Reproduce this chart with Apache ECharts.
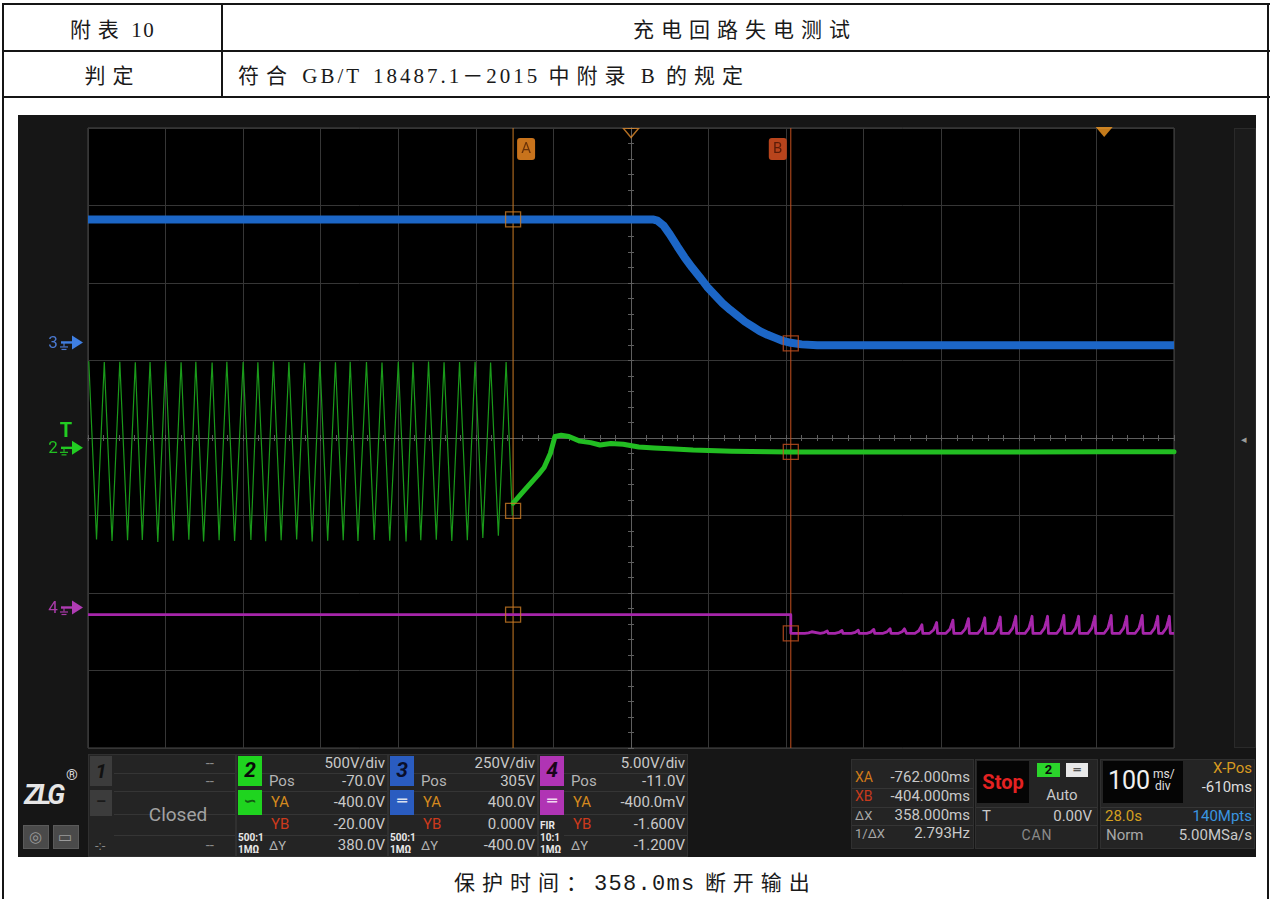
<!DOCTYPE html>
<html>
<head>
<meta charset="utf-8">
<script src="https://cdn.jsdelivr.net/npm/echarts@6/dist/echarts.min.js"></script>
<style>
html,body{margin:0;padding:0;background:#fff;}
body{width:1271px;height:899px;position:relative;overflow:hidden;}
.ln{position:absolute;background:#151515;}
.cell{position:absolute;display:flex;align-items:center;font-family:"Liberation Serif","Noto Sans CJK SC",serif;font-size:21px;color:#1a1a1a;white-space:pre;}
.cj{letter-spacing:7px;}
.la{letter-spacing:1.5px;}
.wide .la{letter-spacing:3px;}
.wide{word-spacing:3px;}
.cap{word-spacing:4px;}
.mono{font-family:"Liberation Mono","DejaVu Sans Mono",monospace;font-size:22px;letter-spacing:1.3px;}
#scope{position:absolute;left:18px;top:115px;width:1238px;height:742px;background:#161616;}
#chart{position:absolute;left:18px;top:115px;width:1238px;height:637px;}
.p{position:absolute;white-space:nowrap;line-height:1;font-family:Roboto,"DejaVu Sans",sans-serif;font-size:15px;color:#c9c9c9;}
.bx{position:absolute;box-sizing:border-box;}
</style>
</head>
<body>
<!-- table frame -->
<div class="ln" style="left:2px;top:3px;width:1268px;height:2px"></div>
<div class="ln" style="left:2px;top:50px;width:1268px;height:2px"></div>
<div class="ln" style="left:2px;top:96px;width:1268px;height:2px"></div>
<div class="ln" style="left:2px;top:3px;width:2px;height:900px"></div>
<div class="ln" style="left:1267px;top:3px;width:2px;height:900px"></div>
<div class="ln" style="left:221px;top:3px;width:2px;height:95px"></div>

<div class="cell" style="left:4px;top:5px;width:217px;height:45px;justify-content:center"><span><span class="cj">附表</span> <span class="la">10</span></span></div>
<div class="cell" style="left:223px;top:5px;width:1044px;height:45px;justify-content:center"><span><span class="cj">充电回路失电测试</span></span></div>
<div class="cell" style="left:4px;top:52px;width:217px;height:44px;justify-content:center"><span><span class="cj">判定</span></span></div>
<div class="cell" style="left:238px;top:52px;width:1000px;height:44px"><span class="wide"><span class="cj">符合</span> <span class="la">GB/T 18487.1－2015</span> <span class="cj">中附录</span> <span class="la">B</span> <span class="cj">的规定</span></span></div>
<div class="cell" style="left:4px;top:862px;width:1263px;height:38px;justify-content:center"><span class="cap"><span class="cj">保护时间：</span><span class="mono">358.0ms</span> <span class="cj">断开输出</span></span></div>

<div id="scope"></div>
<div id="chart"></div>
<div id="panel"></div>

<script>
// ---- acquisition settings (from the status bar) ----
const H_DIV = 14, V_DIV = 8;
const TIME_PER_DIV = 100;      // ms/div
const X_POS = -610;            // ms, screen centre
const TRIG_T = 0;              // ms, trigger point
const chScale = {2: 500, 3: 250, 4: 5};     // V/div
const chPos = {2: -70, 3: 305, 4: -11};     // V offset
const XA = -762, XB = -404;                  // cursor times, ms
const YA = {2: -400, 3: 400, 4: -0.4};       // cursor A levels
const YB = {2: -20, 3: 0, 4: -1.6};          // cursor B levels

// ---- CH2 (green): mains voltage before cut-off ----
const acPeakT = [-1309,-1289,-1269,-1249,-1230,-1210,-1190,-1171,-1150,-1131,-1110,-1091,-1071,-1051,-1031,-1011,-991,-972,-951,-931,-910,-891,-871,-851,-831,-811,-791,-771];
const acPeakV = [565,560,562,558,560,563,559,561,557,562,560,558,563,560,556,561,559,562,560,557,561,559,563,558,560,562,557,560];
const acTroughT = [-1299,-1279,-1259,-1240,-1220,-1200,-1180,-1161,-1141,-1121,-1100,-1081,-1061,-1041,-1021,-1001,-981,-962,-941,-921,-900,-881,-861,-841,-821,-801,-781];
const acTroughV = [-585,-595,-590,-588,-600,-592,-586,-598,-590,-594,-588,-596,-590,-585,-598,-592,-590,-595,-588,-592,-597,-590,-586,-594,-590,-575,-560];
const acEndT = -763, acEndV = -430;

// ---- CH2 (green): after cut-off ----
const ch2T = [-762,-747,-730,-722,-714,-708,-700,-690,-676,-662,-650,-636,-620,-600,-580,-560,-530,-480,-404,-300,-200,-100,0,90];
const ch2V = [-350,-265,-170,-120,-30,80,88,80,50,40,25,35,30,12,5,0,-8,-15,-20,-20,-20,-20,-18,-18];

// ---- CH3 (blue): output voltage ----
const ch3T = [-1310,-582,-576,-568,-560,-550,-541,-531,-521,-512,-502,-492,-482,-472,-463,-453,-444,-434,-424,-414,-404,-390,-370,-300,-200,-100,0,90];
const ch3V = [400,400,396,380,352,312,278,244,213,183,156,130,108,88,70,54,40,28,18,8,2,-3,-6,-6,-6,-6,-6,-6];

// ---- CH4 (magenta): control signal ----
const ch4T = [-1310,-404,-404];
const ch4V = [-0.4,-0.4,-1.6];
const ch4Base = -1.6;
const spikeT = [-377,-357,-338,-317,-297,-276,-256,-235,-216,-195,-175,-154,-134,-114,-93,-73,-52,-33,-12,9,29,49,69,84];
const spikeV = [-1.5,-1.45,-1.42,-1.4,-1.35,-1.3,-1.2,-1.05,-0.9,-0.75,-0.65,-0.6,-0.55,-0.5,-0.5,-0.5,-0.45,-0.5,-0.5,-0.45,-0.5,-0.45,-0.5,-0.5];

// ---- build series data ----
const tMin = X_POS - TIME_PER_DIV * H_DIV / 2;
const tMax = X_POS + TIME_PER_DIV * H_DIV / 2;
function yRange(ch){ return [-V_DIV/2*chScale[ch] - chPos[ch], V_DIV/2*chScale[ch] - chPos[ch]]; }

const acData = [];
acPeakT.forEach((t, i) => {
  acData.push([t, acPeakV[i]]);
  if (i < acTroughT.length) acData.push([acTroughT[i], acTroughV[i]]);
});
acData.push([acEndT, acEndV]);

const ch2Data = ch2T.map((t, i) => [t, ch2V[i]]);
const ch3Data = ch3T.map((t, i) => [t, ch3V[i]]);

const ch4Data = ch4T.map((t, i) => [t, ch4V[i]]);
spikeT.forEach((t, i) => {
  const a = spikeV[i] - ch4Base;
  ch4Data.push([t - 9, ch4Base], [t - 4, ch4Base + a * 0.3], [t - 1.5, ch4Base + a * 0.72], [t, spikeV[i]], [t + 1.2, ch4Base]);
});
ch4Data.push([tMax, ch4Base]);

const cA = '#c97a24', cB = '#c4501f';
const gridLine = '#363636', centerLine = '#5e5e5e';

function tickX(inside){
  return {type:'value', min:-H_DIV/2, max:H_DIV/2, interval:1, position:'bottom',
    axisLine:{show:true, onZero:true, onZeroAxisIndex:0, lineStyle:{color:centerLine, width:1}},
    axisTick:{show:true, inside:inside, length:3, lineStyle:{color:centerLine}},
    minorTick:{show:true, splitNumber:5, length:3, lineStyle:{color:centerLine}},
    axisLabel:{show:false}, splitLine:{show:false}};
}
function tickY(inside){
  return {type:'value', min:-V_DIV/2, max:V_DIV/2, interval:1, position:'left',
    axisLine:{show:true, onZero:true, onZeroAxisIndex:2, lineStyle:{color:centerLine, width:1}},
    axisTick:{show:true, inside:inside, length:3, lineStyle:{color:centerLine}},
    minorTick:{show:true, splitNumber:5, length:3, lineStyle:{color:centerLine}},
    axisLabel:{show:false}, splitLine:{show:false}};
}
function boxes(ch, axis){
  return {type:'scatter', xAxisIndex:1, yAxisIndex:axis, symbol:'rect', symbolSize:15, silent:true, clip:false, z:6,
    itemStyle:{color:'rgba(0,0,0,0)', borderWidth:1.3},
    data:[{value:[XA, YA[ch]], itemStyle:{borderColor:cA}}, {value:[XB, YB[ch]], itemStyle:{borderColor:cB}}]};
}
const r2 = yRange(2), r3 = yRange(3), r4 = yRange(4);

const chart = echarts.init(document.getElementById('chart'), null, {renderer:'canvas'});
chart.setOption({
  animation:false,
  backgroundColor:'#161616',
  grid:{left:70, top:13, width:1086, height:620, show:true, backgroundColor:'#000', borderColor:'#484848', borderWidth:1},
  xAxis:[
    {type:'value', min:0, max:H_DIV, interval:1, axisLine:{show:false}, axisTick:{show:false}, axisLabel:{show:false},
      splitLine:{show:true, lineStyle:{color:gridLine, width:1}}},
    {type:'value', min:tMin, max:tMax, show:false},
    tickX(false), tickX(true)
  ],
  yAxis:[
    {type:'value', min:-V_DIV/2, max:V_DIV/2, interval:1, axisLine:{show:false}, axisTick:{show:false}, axisLabel:{show:false},
      splitLine:{show:true, lineStyle:{color:gridLine, width:1}}},
    {type:'value', min:r2[0], max:r2[1], show:false},
    {type:'value', min:r3[0], max:r3[1], show:false},
    {type:'value', min:r4[0], max:r4[1], show:false},
    tickY(false), tickY(true)
  ],
  series:[
    {name:'CH2 AC', type:'line', xAxisIndex:1, yAxisIndex:1, data:acData, symbol:'none', z:3,
      lineStyle:{color:'#1a9a1a', width:1.2}},
    {name:'CH2', type:'line', xAxisIndex:1, yAxisIndex:1, data:ch2Data, symbol:'none', z:3,
      lineStyle:{color:'#22bd22', width:5, join:'round', cap:'round'}},
    {name:'CH3', type:'line', xAxisIndex:1, yAxisIndex:2, data:ch3Data, symbol:'none', z:3,
      lineStyle:{color:'#1c66c6', width:8, join:'round'}},
    {name:'CH4', type:'line', xAxisIndex:1, yAxisIndex:3, data:ch4Data, symbol:'none', z:3,
      lineStyle:{color:'#a626aa', width:2.8, join:'round'}},
    {name:'cursor A', type:'line', xAxisIndex:1, yAxisIndex:0, data:[[XA, -V_DIV/2], [XA, V_DIV/2]], symbol:'none', z:2,
      lineStyle:{color:cA, width:1}},
    {name:'cursor B', type:'line', xAxisIndex:1, yAxisIndex:0, data:[[XB, -V_DIV/2], [XB, V_DIV/2]], symbol:'none', z:2,
      lineStyle:{color:cB, width:1}},
    boxes(2, 1), boxes(3, 2), boxes(4, 3),
    {name:'x-pos', type:'scatter', xAxisIndex:1, yAxisIndex:0, data:[[X_POS, V_DIV/2]], symbol:'triangle', symbolRotate:180,
      symbolSize:[15, 9], symbolOffset:[0, 5], clip:false, silent:true, z:7,
      itemStyle:{color:'rgba(0,0,0,0)', borderColor:'#e0892a', borderWidth:1.3}},
    {name:'trigger', type:'scatter', xAxisIndex:1, yAxisIndex:0, data:[[TRIG_T, V_DIV/2]], symbol:'triangle', symbolRotate:180,
      symbolSize:[17, 10], symbolOffset:[0, 4], clip:false, silent:true, z:7,
      itemStyle:{color:'#f59a22'}}
  ]
});

// ---- channel ground markers and cursor tags, placed through the axes ----
function gnd(axis, label, color, arrow){
  const y = chart.convertToPixel({yAxisIndex: axis}, 0);
  return {type:'group', x:0, y:y, silent:true, children:[
    {type:'text', x:35, y:0, style:{text:label, fill:color, font:'17px Roboto', align:'center', verticalAlign:'middle'}},
    {type:'line', shape:{x1:43, y1:-1, x2:56, y2:-1}, style:{stroke:arrow, lineWidth:2.4}},
    {type:'line', shape:{x1:46, y1:-1, x2:46, y2:3}, style:{stroke:color, lineWidth:1.2}},
    {type:'line', shape:{x1:42, y1:3.5, x2:50, y2:3.5}, style:{stroke:color, lineWidth:1.2}},
    {type:'line', shape:{x1:43.5, y1:6, x2:48.5, y2:6}, style:{stroke:color, lineWidth:1.2}},
    {type:'polygon', shape:{points:[[54,-8],[65,-1],[54,6]]}, style:{fill:arrow}}
  ]};
}
const xA = chart.convertToPixel({xAxisIndex:1}, XA);
const xB = chart.convertToPixel({xAxisIndex:1}, XB);
const y2 = chart.convertToPixel({yAxisIndex:1}, 0);
chart.setOption({graphic:[
  gnd(2, '3', '#4a78cf', '#3f7fe2'),
  gnd(1, '2', '#22c022', '#22cc22'),
  gnd(3, '4', '#a83aa8', '#b03cb4'),
  {type:'text', x:48, y:y2 - 17, silent:true, style:{text:'T', fill:'#22cc22', font:'bold 20px Roboto', align:'center', verticalAlign:'middle'}},
  {type:'rect', x:xA + 4, y:23, shape:{width:18, height:22, r:3}, style:{fill:'#c8731c'}, silent:true},
  {type:'text', x:xA + 13, y:34, silent:true, style:{text:'A', fill:'#6a3208', font:'15px Roboto', align:'center', verticalAlign:'middle'}},
  {type:'rect', x:xB - 22, y:23, shape:{width:18, height:22, r:3}, style:{fill:'#b8441c'}, silent:true},
  {type:'text', x:xB - 13, y:34, silent:true, style:{text:'B', fill:'#5a1c08', font:'15px Roboto', align:'center', verticalAlign:'middle'}}
]});

// ---- status bar below the screen ----
const panel = document.getElementById('panel');
function rect(x, y, w, h, bg, border){
  const d = document.createElement('div'); d.className = 'bx';
  d.style.left = x + 'px'; d.style.top = y + 'px'; d.style.width = w + 'px'; d.style.height = h + 'px';
  d.style.background = bg; if (border) d.style.border = '1px solid ' + border;
  panel.appendChild(d); return d;
}
function put(x, y, s, o){
  o = o || {};
  const d = document.createElement('div'); d.className = 'p'; d.textContent = s;
  const size = o.size || 15;
  d.style.fontSize = size + 'px';
  d.style.top = (y - size * 0.55) + 'px';
  if (o.align === 'right'){ d.style.left = (x - 300) + 'px'; d.style.width = '300px'; d.style.textAlign = 'right'; }
  else if (o.align === 'center'){ d.style.left = (x - 150) + 'px'; d.style.width = '300px'; d.style.textAlign = 'center'; }
  else d.style.left = x + 'px';
  if (o.color) d.style.color = o.color;
  if (o.weight) d.style.fontWeight = o.weight;
  if (o.italic) d.style.fontStyle = 'italic';
  if (o.ls) d.style.letterSpacing = o.ls + 'px';
  panel.appendChild(d); return d;
}
// side strip right of the screen
rect(1234, 128, 22, 620, '#1b1b1b', '#2a2a2a');
put(1241, 440, '◂', {size:11, color:'#9a9a9a'});

const CY = [764, 782, 803, 825, 846];
const seps = [773, 791, 814, 835];
function chBlock(x0, x1){
  rect(x0, 754, x1 - x0, 103, '#242424', '#303030');
  seps.forEach(s => rect(x0 + 26, s, x1 - x0 - 27, 1, '#353535'));
}
const cYA = '#d4891e', cYB = '#cc3a1c', cLab = '#b4b4b4';

// logo and buttons
put(24, 797, 'ZLG', {size:27, weight:'bold', italic:true, color:'#e6e6e6', ls:-3});
put(66, 776, '®', {size:15, color:'#d8d8d8'});
rect(23, 825, 26, 24, '#4a4a4a', '#5a5a5a');
rect(53, 825, 26, 24, '#4a4a4a', '#5a5a5a');
put(29, 838, '◎', {size:15, color:'#9a9a9a'});
put(58, 838, '▭', {size:15, color:'#9a9a9a'});

// CH1
chBlock(88, 236);
rect(90, 756, 22, 30, '#3c3c3c'); put(101, 772, '1', {size:20, weight:'bold', italic:true, color:'#111', align:'center'});
rect(90, 790, 22, 26, '#3c3c3c'); put(101, 803, '–', {size:16, weight:'bold', color:'#1a1a1a', align:'center'});
put(214, CY[0], '--', {align:'right', color:'#8a8a8a'});
put(214, CY[1], '--', {align:'right', color:'#8a8a8a'});
put(178, 815, 'Closed', {align:'center', size:19, color:'#a2a2a2'});
put(95, CY[4], '-:-', {size:13, color:'#8a8a8a'});
put(214, CY[4], '--', {align:'right', color:'#8a8a8a'});

// CH2, CH3, CH4
const chCols = [
  {x0:236, x1:388, num:'2', col:'#1fd41f', txt:'#0a0a0a', cpl:'∽', cplTxt:'#125a12', probe:['500:1','1MΩ'],
   vals:['500V/div','-70.0V','-400.0V','-20.00V','380.0V']},
  {x0:388, x1:538, num:'3', col:'#2a5cc0', txt:'#0a0f2a', cpl:'═', cplTxt:'#d8e0f0', probe:['500:1','1MΩ'],
   vals:['250V/div','305V','400.0V','0.000V','-400.0V']},
  {x0:538, x1:688, num:'4', col:'#b034b4', txt:'#1a051a', cpl:'═', cplTxt:'#f0d8f0', probe:['FIR','10:1','1MΩ'],
   vals:['5.00V/div','-11.0V','-400.0mV','-1.600V','-1.200V']}
];
chCols.forEach(c => {
  chBlock(c.x0, c.x1);
  const bx = c.x0 + 2;
  rect(bx, 756, 24, 30, c.col); put(bx + 12, 772, c.num, {size:21, weight:'bold', italic:true, color:c.txt, align:'center'});
  rect(bx, 790, 24, 25, c.col); put(bx + 12, 802, c.cpl, {size:16, weight:'bold', color:c.cplTxt, align:'center'});
  const py = c.probe.length === 3 ? [826, 838, 850] : [838, 850];
  c.probe.forEach((s, i) => put(bx, py[i], s, {size:10, weight:'bold', color:'#e8e8e8'}));
  const lx = c.x0 + 33, rx = c.x1 - 3;
  put(rx, CY[0], c.vals[0], {align:'right'});
  put(lx, CY[1], 'Pos', {color:cLab}); put(rx, CY[1], c.vals[1], {align:'right'});
  put(lx + 2, CY[2], 'YA', {color:cYA}); put(rx, CY[2], c.vals[2], {align:'right'});
  put(lx + 2, CY[3], 'YB', {color:cYB}); put(rx, CY[3], c.vals[3], {align:'right'});
  put(lx, CY[4], 'ΔY', {size:13, color:cLab}); put(rx, CY[4], c.vals[4], {align:'right'});
});

// cursor readout
rect(851, 759, 123, 90, '#242424', '#303030');
[788, 807, 825].forEach(s => rect(852, s, 121, 1, '#353535'));
put(855, 778, 'XA', {color:'#d07a1a', size:14}); put(970, 778, '-762.000ms', {align:'right'});
put(855, 797, 'XB', {color:'#c83a1c', size:14}); put(970, 797, '-404.000ms', {align:'right'});
put(855, 816, 'ΔX', {color:'#a8a8a8', size:13}); put(970, 816, '358.000ms', {align:'right'});
put(855, 834, '1/ΔX', {color:'#a8a8a8', size:13}); put(970, 834, '2.793Hz', {align:'right'});

// run / trigger block
rect(975, 759, 123, 90, '#242424', '#303030');
rect(976, 807, 121, 1, '#353535'); rect(976, 825, 121, 1, '#353535');
rect(977, 761, 52, 42, '#050505');
put(1003, 783, 'Stop', {align:'center', size:20, weight:'bold', color:'#e42222'});
rect(1037, 763, 23, 14, '#2bd42b'); put(1048.5, 770.5, '2', {align:'center', size:13, weight:'bold', color:'#0a0a0a'});
rect(1066, 763, 22, 14, '#e8e8e8'); put(1077, 770.5, '═', {align:'center', size:12, color:'#333'});
put(1062, 796, 'Auto', {align:'center', size:15});
put(982, 817, 'T', {size:15}); put(1092, 817, '0.00V', {align:'right'});
put(1037, 836, 'CAN', {align:'center', size:14, color:'#8a8a8a', ls:1});

// timebase block
rect(1100, 759, 155, 90, '#242424', '#303030');
rect(1101, 807, 153, 1, '#353535'); rect(1101, 825, 153, 1, '#353535');
rect(1103, 761, 80, 42, '#050505');
put(1108, 782, '100', {size:25, color:'#f0f0f0'});
put(1153, 775, 'ms/', {size:12, color:'#e0e0e0'});
put(1155, 787, 'div', {size:12, color:'#e0e0e0'});
put(1252, 769, 'X-Pos', {align:'right', color:'#d89a20'});
put(1252, 788, '-610ms', {align:'right', color:'#dcdcdc'});
put(1105, 817, '28.0s', {color:'#d4a020'}); put(1252, 817, '140Mpts', {align:'right', color:'#3a95e0'});
put(1106, 836, 'Norm', {color:'#a8a8a8'}); put(1252, 836, '5.00MSa/s', {align:'right'});
</script>
</body>
</html>
